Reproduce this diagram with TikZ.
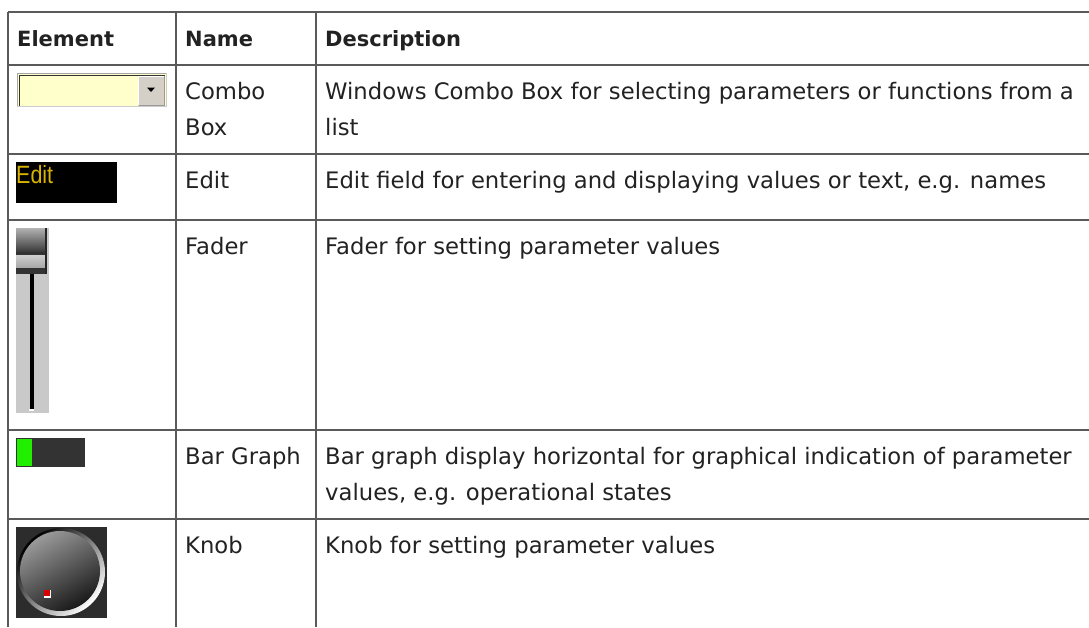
\documentclass[tikz,border=0pt]{standalone}
\usepackage{fontspec}
\setmainfont{DejaVu Sans}
\newfontfamily\lcdfont{Liberation Sans}
\definecolor{txt}{HTML}{222222}
\definecolor{rule}{HTML}{5A5A5A}
\definecolor{combofill}{HTML}{FFFFCC}
\definecolor{btn}{HTML}{D4D0C8}
\definecolor{lcdyellow}{HTML}{D8B400}
\definecolor{bardark}{HTML}{333333}
\definecolor{bargreen}{HTML}{22EE00}
\definecolor{knobbg}{HTML}{2C2C2C}
\tikzset{
  cell/.style={anchor=base west, inner sep=0pt, font=\fontsize{22.7}{36}\selectfont, text=txt},
  head/.style={cell, font=\fontsize{21}{36}\selectfont\bfseries},
  grid/.style={draw=rule, line width=1.3pt},
}
\begin{document}
\begin{tikzpicture}[x=1pt,y=-1pt]
\useasboundingbox (0,0) rectangle (1089,627);
\fill[white] (0,0) rectangle (1089,627);
% grid
\foreach \yy in {12,65,154,220,430,519} \draw[grid] (8,\yy) -- (1089,\yy);
\foreach \xx in {8,176,316} \draw[grid] (\xx,12) -- (\xx,627);
% header
\node[head] (h1) at (17,46) {Element};
\node[head] (h2) at (185,46) {Name};
\node[head] (h3) at (325,46) {Description};
% combo row
\node[cell] (n1a) at (185,99) {Combo};
\node[cell] (n1b) at (185,135) {Box};
\node[cell] (d1a) at (325,99) {Windows Combo Box for selecting parameters or functions from a};
\node[cell] (d1b) at (325,135) {list};
% edit row
\node[cell] (n2) at (185,188) {Edit};
\node[cell] (d2) at (325,188) {Edit field for entering and displaying values or text, e.g. names};
% fader row
\node[cell] (n3) at (185,254) {Fader};
\node[cell] (d3) at (325,254) {Fader for setting parameter values};
% bar graph row
\node[cell] (n4) at (185,464) {Bar Graph};
\node[cell] (d4a) at (325,464) {Bar graph display horizontal for graphical indication of parameter};
\node[cell] (d4b) at (325,500) {values, e.g. operational states};
% knob row
\node[cell] (n5) at (185,553) {Knob};
\node[cell] (d5) at (325,553) {Knob for setting parameter values};

% ---- combo box icon
\fill[combofill] (17,73) rectangle (166,107);
\draw[gray!70, line width=1.5pt] (17.5,107) -- (17.5,73.5) -- (166,73.5);
\draw[black!80, line width=1pt] (19,106) -- (19,75) -- (165,75);
\draw[gray!40, line width=1pt] (17,106.5) -- (166,106.5) -- (166,73);
\fill[btn] (138,75.5) rectangle (164.5,105.5);
\draw[white, line width=1pt] (138.5,105) -- (138.5,76) -- (164,76);
\draw[gray!80, line width=1pt] (138.5,105) -- (164,105) -- (164,76);
\fill[black] (147,87.5) -- (155,87.5) -- (151,92) -- cycle;

% ---- edit icon
\fill[black] (16,162) rectangle (117,203);
\node[anchor=base west, inner sep=0pt, text=lcdyellow, font=\lcdfont\fontsize{25}{25}\selectfont, xscale=0.86] (edittxt) at (16,183) {Edit};

% ---- fader icon
\fill[gray!42] (16,228) rectangle (49,413);
\shade[top color=gray!60, bottom color=black!80] (16,228) rectangle (46,253);
\shade[top color=gray!35, bottom color=gray!70] (16,254) rectangle (46,268);
\fill[black!80] (16,252) rectangle (46,255);
\fill[black!80] (16,268) rectangle (46,274);
\fill[black!85] (44.5,228) rectangle (46.5,274);
\fill[black] (30,274) rectangle (33.5,409);
\fill[white] (29,409) rectangle (34,411);

% ---- bar graph icon
\fill[bardark] (16,438) rectangle (85,467);
\fill[bargreen] (17,439) rectangle (32,466);

% ---- knob icon
\fill[knobbg] (16,527) rectangle (107,618);
\shade[top color=black, bottom color=white, shading angle=45] (61,572) circle (44);
\shade[top color=gray!80, bottom color=black!90, shading angle=30] (60,571) circle (40);
\fill[white] (43.5,590) rectangle (50.5,598);
\fill[red!85!black] (44,590) rectangle (49.5,596);
\end{tikzpicture}
\end{document}
